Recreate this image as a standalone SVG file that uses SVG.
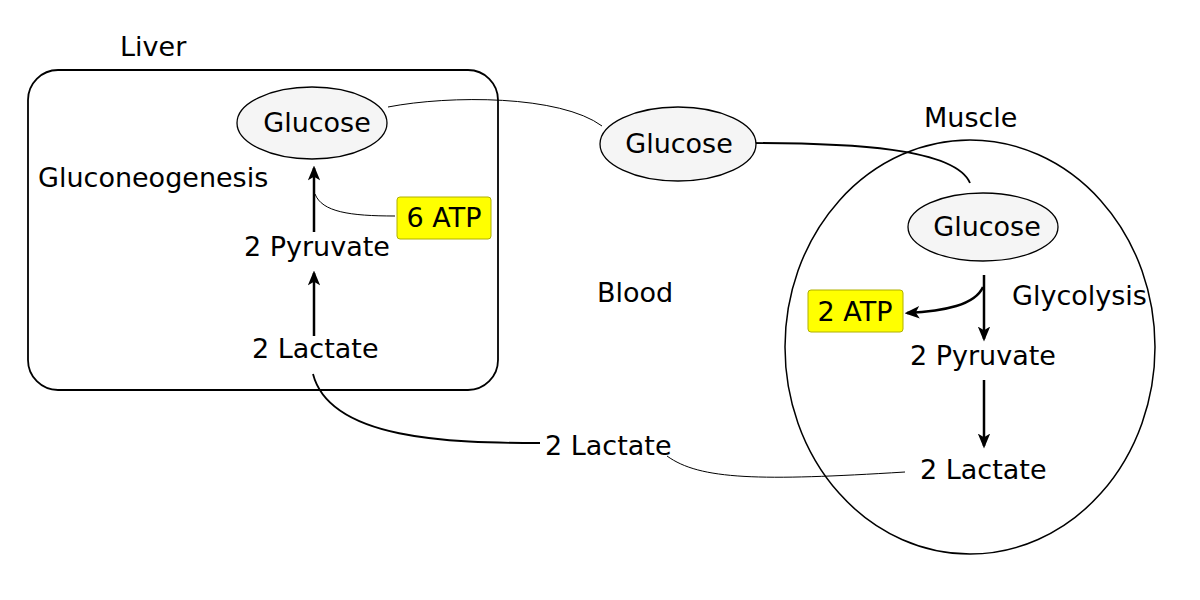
<svg xmlns="http://www.w3.org/2000/svg" width="1200" height="600" viewBox="0 0 1200 600">
<style>
text{font-family:"DejaVu Sans","Liberation Sans",sans-serif;font-size:27px;fill:#000}
.ell{fill:#f5f5f5;stroke:#000;stroke-width:1.3}
.atp{fill:#ffff00;stroke:#b0b000;stroke-width:1}
.thin{fill:none;stroke:#000;stroke-width:1}
.mid{fill:none;stroke:#000;stroke-width:1.8}
.arr{fill:none;stroke:#000;stroke-width:2.5;marker-end:url(#ah)}
</style>
<defs>
<marker id="ah" viewBox="0 0 12 10" refX="10" refY="5" markerWidth="6" markerHeight="5" orient="auto" markerUnits="strokeWidth">
<path d="M0,0 L12,5 L0,10 L3,5 Z" fill="#000"/>
</marker>
</defs>
<rect x="0" y="0" width="1200" height="600" fill="#fff"/>
<g id="liver">
<rect x="28" y="70" width="470" height="320" rx="30" fill="none" stroke="#000" stroke-width="1.8"/>
<text x="120" y="56">Liver</text>
<text x="38" y="187">Gluconeogenesis</text>
</g>
<g id="muscle">
<ellipse cx="970" cy="347" rx="185" ry="207" fill="none" stroke="#000" stroke-width="1.5"/>
<text x="924" y="127">Muscle</text>
<text x="1012" y="305">Glycolysis</text>
</g>
<text id="blood" x="597" y="302">Blood</text>
<g id="connectors">
<path class="thin" d="M388,107 C450,95 560,95 602,126"/>
<path class="mid" d="M752,143 C850,143 955,148 970,183"/>
<path class="arr" d="M314,232 L314,168"/>
<path class="thin" d="M395,216 C350,216 322,212 315,194"/>
<path class="arr" d="M314,336 L314,273"/>
<path class="mid" d="M313,374 C330,440 450,443 540,443"/>
<path class="thin" d="M667,456 C700,480 760,481 905,472"/>
<path class="arr" d="M984,275 L984,339"/>
<path class="arr" d="M983,287 C975,305 945,311 907,313"/>
<path class="arr" d="M984,380 L984,446"/>
</g>
<g id="liver-glucose">
<ellipse class="ell" cx="312" cy="123" rx="75" ry="36"/>
<text x="317" y="132" text-anchor="middle">Glucose</text>
</g>
<g id="six-atp">
<rect class="atp" x="397" y="197" width="94" height="42" rx="3"/>
<text x="444" y="227" text-anchor="middle">6 ATP</text>
</g>
<g id="liver-pyruvate"><text x="244" y="256">2 Pyruvate</text></g>
<g id="liver-lactate"><text x="252" y="358">2 Lactate</text></g>
<g id="blood-glucose">
<ellipse class="ell" cx="678" cy="144" rx="78" ry="37"/>
<text x="679" y="153" text-anchor="middle">Glucose</text>
</g>
<g id="blood-lactate"><text x="545" y="455">2 Lactate</text></g>
<g id="muscle-glucose">
<ellipse class="ell" cx="983" cy="227" rx="75" ry="34"/>
<text x="987" y="236" text-anchor="middle">Glucose</text>
</g>
<g id="two-atp">
<rect class="atp" x="808" y="290" width="95" height="42" rx="3"/>
<text x="855" y="321" text-anchor="middle">2 ATP</text>
</g>
<g id="muscle-pyruvate"><text x="910" y="365">2 Pyruvate</text></g>
<g id="muscle-lactate"><text x="920" y="479">2 Lactate</text></g>
</svg>
